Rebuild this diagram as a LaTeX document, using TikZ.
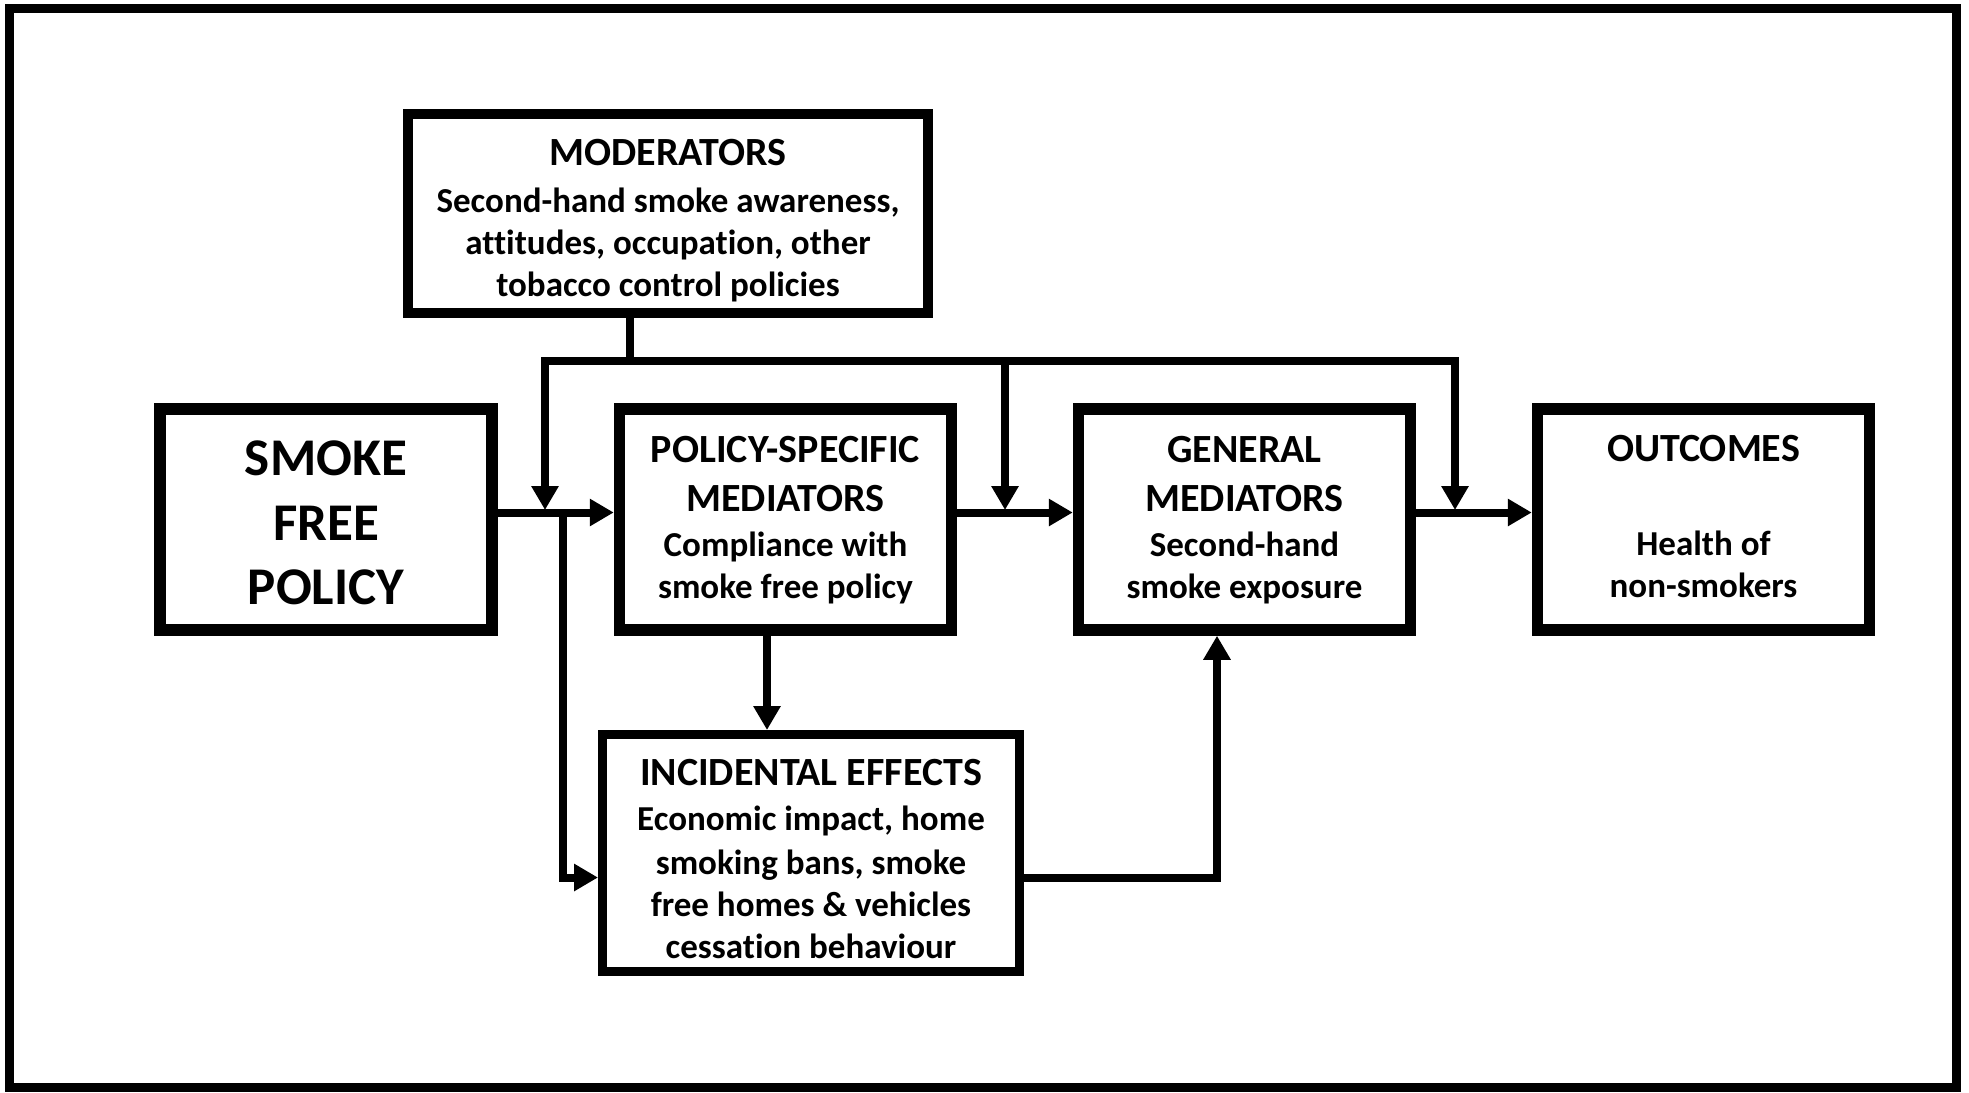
\documentclass[tikz,border=0pt]{standalone}
\usepackage{fontspec}
\setmainfont{Carlito}[Ligatures=NoCommon]
\usetikzlibrary{arrows.meta}
\newcommand{\ttl}[1]{{\fontsize{40}{42}\selectfont #1}}
\begin{document}
\begin{tikzpicture}[x=1pt,y=-1pt,
  mainbox/.style={draw, line width=11.5pt, minimum width=332pt, minimum height=221pt, inner sep=0pt},
  modbox/.style={draw, line width=10pt, minimum width=520pt, minimum height=199pt, inner sep=0pt},
  incbox/.style={draw, line width=9pt, minimum width=417pt, minimum height=237pt, inner sep=0pt},
  txt/.style={align=center, inner sep=0pt, font=\bfseries\fontsize{35}{42}\selectfont},
  bigtxt/.style={align=center, inner sep=0pt, font=\bfseries\fontsize{53}{64.7}\selectfont},
  conn/.style={line width=8pt, -{Triangle[length=24pt,width=26pt]}},
  plain/.style={line width=8pt}]
\useasboundingbox (0,0) rectangle (1969,1092);
\draw[line width=9pt] (9.5,8.5) rectangle (1956.5,1087.5);

% boxes
\node[mainbox] (smoke) at (326,519.5) {};
\node[mainbox] (policy) at (785.5,519.5) {};
\node[mainbox] (general) at (1244.5,519.5) {};
\node[mainbox] (outcomes) at (1703.5,519.5) {};
\node[modbox] (mod) at (668,213.5) {};
\node[incbox] (inc) at (811,853) {};

% texts
\node[bigtxt] (tsmoke) at (326,523) {SMOKE\\FREE\\POLICY};
\node[txt] (tmod) at (668,221) {\ttl{MODERATORS}\\[5pt]Second-hand smoke awareness,\\attitudes, occupation, other\\tobacco control policies};
\node[txt] (tpolicy) at (785.5,520.5) {\ttl{POLICY-SPECIFIC}\\[6.5pt]\ttl{MEDIATORS}\\[3.5pt]Compliance with\\smoke free policy};
\node[txt] (tgeneral) at (1244.5,520.5) {\ttl{GENERAL}\\[6.5pt]\ttl{MEDIATORS}\\[3.5pt]Second-hand\\smoke exposure};
\node[txt] (toutcomes) at (1703.5,517) {\ttl{OUTCOMES}\\[52pt]Health of\\non-smokers};
\node[txt] (tinc) at (811,859) {\ttl{INCIDENTAL EFFECTS}\\[3.5pt]Economic impact, home\\[2pt]smoking bans, smoke\\free homes \& vehicles\\cessation behaviour};

% helper coordinates
\coordinate (mainY) at (0,512.5);
\coordinate (junc) at (630,361);
\coordinate (d1) at (545,510);
\coordinate (d2) at (1005,510);
\coordinate (d3) at (1455,510);
\coordinate (br) at (563,512.5);
\coordinate (lowY) at (0,877.5);
\coordinate (piX) at (767,0);
\coordinate (igX) at (1217,0);

% main chain
\draw[conn] (smoke.east |- mainY) -- (policy.west |- mainY);
\draw[conn] (policy.east |- mainY) -- (general.west |- mainY);
\draw[conn] (general.east |- mainY) -- (outcomes.west |- mainY);

% moderators
\draw[plain] (mod.south -| junc) -- (junc);
\draw[conn] (junc) -| (d1);
\draw[conn] (junc) -| (d2);
\draw[conn] (junc) -| (d3);

% branches
\draw[conn] (br) |- (inc.west |- lowY);
\draw[conn] (policy.south -| piX) -- (inc.north -| piX);
\draw[conn] (inc.east |- lowY) -| (general.south -| igX);
\end{tikzpicture}
\end{document}
